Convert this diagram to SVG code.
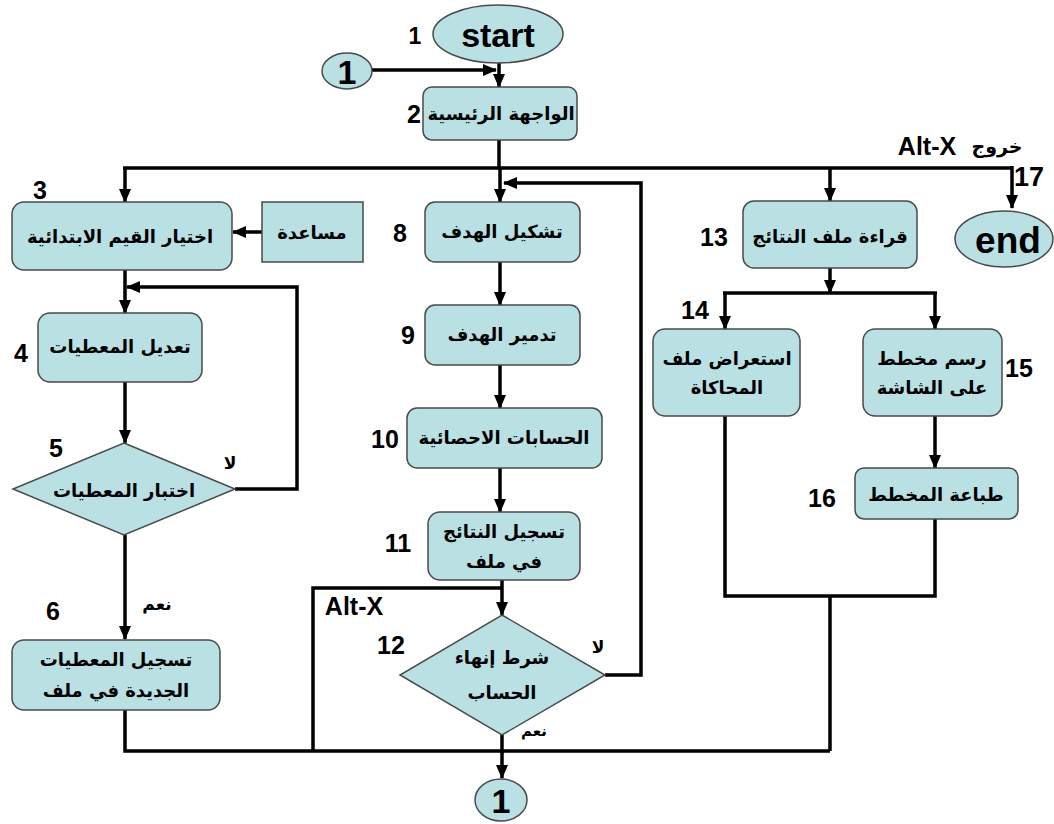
<svg xmlns="http://www.w3.org/2000/svg" width="1054" height="824" viewBox="0 0 1054 824">
<style>
.n{fill:#b9e0e3;stroke:#4a4a4a;stroke-width:1.5}
.c{fill:none;stroke:#000;stroke-width:3.5}
.ar{font-family:"DejaVu Sans",sans-serif;font-weight:bold;font-size:18px;fill:#000;text-anchor:middle;dominant-baseline:central}
.lbl{font-family:"DejaVu Sans",sans-serif;font-weight:bold;font-size:17px;fill:#000;text-anchor:middle;dominant-baseline:central}
.num{font-family:"Liberation Sans",Arial,sans-serif;font-weight:bold;font-size:25px;fill:#000;text-anchor:middle;dominant-baseline:central}
.big{font-family:"Liberation Sans",Arial,sans-serif;font-weight:bold;font-size:34px;fill:#000;text-anchor:middle;dominant-baseline:central}
</style>
<defs>
<marker id="ah" markerUnits="userSpaceOnUse" markerWidth="14" markerHeight="14" viewBox="0 0 14 14" refX="13" refY="7" orient="auto">
<path d="M0,1 L14,7 L0,13 Z" fill="#000"/>
</marker>
</defs>
<rect width="1054" height="824" fill="#fff"/>
<g id="connectors">
<path class="c" d="M372,70 H496" marker-end="url(#ah)"/>
<path class="c" d="M499,63 V87" marker-end="url(#ah)"/>
<path class="c" d="M499,140 V168"/>
<path class="c" d="M123,168 H1012"/>
<path class="c" d="M125,168 V202" marker-end="url(#ah)"/>
<path class="c" d="M500,168 V202" marker-end="url(#ah)"/>
<path class="c" d="M830,168 V201" marker-end="url(#ah)"/>
<path class="c" d="M1012,166 V208" marker-end="url(#ah)"/>
<path class="c" d="M262,232 H233" marker-end="url(#ah)"/>
<path class="c" d="M125,270 V313" marker-end="url(#ah)"/>
<path class="c" d="M235,489 H297 V287 H127" marker-end="url(#ah)"/>
<path class="c" d="M125,382 V443" marker-end="url(#ah)"/>
<path class="c" d="M125,535 V639" marker-end="url(#ah)"/>
<path class="c" d="M125,710 V751 H830"/>
<path class="c" d="M500,262 V305" marker-end="url(#ah)"/>
<path class="c" d="M500,365 V408" marker-end="url(#ah)"/>
<path class="c" d="M500,468 V512" marker-end="url(#ah)"/>
<path class="c" d="M502,580 V615" marker-end="url(#ah)"/>
<path class="c" d="M502,588 H313 V751"/>
<path class="c" d="M605,675 H641 V183 H504" marker-end="url(#ah)"/>
<path class="c" d="M502,733 V778" marker-end="url(#ah)"/>
<path class="c" d="M830,268 V293" marker-end="url(#ah)"/>
<path class="c" d="M723,293 H937"/>
<path class="c" d="M725,293 V329" marker-end="url(#ah)"/>
<path class="c" d="M935,293 V329" marker-end="url(#ah)"/>
<path class="c" d="M935,416 V468" marker-end="url(#ah)"/>
<path class="c" d="M725,416 V596 H935 V519"/>
<path class="c" d="M830,596 V751"/>
</g>
<g id="start">
<ellipse class="n" cx="498" cy="34" rx="65" ry="29"/>
<text class="big" x="498" y="35">start</text>
<text class="num" x="415" y="36" style="font-size:23px">1</text>
</g>
<g id="conn-top">
<ellipse class="n" cx="347" cy="71" rx="25" ry="18"/>
<text class="big" x="347" y="72">1</text>
</g>
<g id="n2">
<rect class="n" x="423" y="87" width="154" height="53" rx="9"/>
<text class="ar" x="501" y="113">الواجهة الرئيسية</text>
<text class="num" x="414" y="114">2</text>
</g>
<g id="exit-label">
<text class="num" x="927" y="146">Alt-X</text>
<text class="lbl" x="997" y="146" style="font-size:19px">خروج</text>
</g>
<g id="n3">
<rect class="n" x="12" y="202" width="220" height="68" rx="12"/>
<text class="ar" x="120" y="236">اختيار القيم الابتدائية</text>
<text class="num" x="40" y="190">3</text>
</g>
<g id="help">
<rect class="n" x="262" y="202" width="101" height="60"/>
<text class="ar" x="312" y="232">مساعدة</text>
</g>
<g id="n4">
<rect class="n" x="38" y="313" width="164" height="69" rx="12"/>
<text class="ar" x="120" y="346">تعديل المعطيات</text>
<text class="num" x="21" y="353">4</text>
</g>
<g id="n5">
<polygon class="n" points="124,443 235,489 124,535 13,489"/>
<text class="ar" x="124" y="490">اختبار المعطيات</text>
<text class="num" x="56" y="448">5</text>
<text class="lbl" x="230" y="463">لا</text>
</g>
<g id="n6">
<rect class="n" x="12" y="640" width="208" height="70" rx="12"/>
<text class="ar" x="116" y="659">تسجيل المعطيات</text>
<text class="ar" x="116" y="690">الجديدة في ملف</text>
<text class="num" x="53" y="611">6</text>
<text class="lbl" x="157" y="604">نعم</text>
</g>
<g id="n8">
<rect class="n" x="425" y="202" width="155" height="60" rx="10"/>
<text class="ar" x="502" y="231">تشكيل الهدف</text>
<text class="num" x="400" y="233">8</text>
</g>
<g id="n9">
<rect class="n" x="425" y="305" width="155" height="60" rx="10"/>
<text class="ar" x="502" y="334">تدمير الهدف</text>
<text class="num" x="408" y="335">9</text>
</g>
<g id="n10">
<rect class="n" x="407" y="408" width="195" height="60" rx="10"/>
<text class="ar" x="504" y="437">الحسابات الاحصائية</text>
<text class="num" x="385" y="439">10</text>
</g>
<g id="n11">
<rect class="n" x="428" y="512" width="152" height="68" rx="12"/>
<text class="ar" x="504" y="531">تسجيل النتائج</text>
<text class="ar" x="504" y="561">في ملف</text>
<text class="num" x="398" y="543">11</text>
</g>
<g id="altx-mid">
<text class="num" x="354" y="606">Alt-X</text>
</g>
<g id="n12">
<polygon class="n" points="502,615 605,675 502,735 400,675"/>
<text class="ar" x="502" y="657">شرط إنهاء</text>
<text class="ar" x="502" y="692">الحساب</text>
<text class="num" x="391" y="645">12</text>
<text class="lbl" x="598" y="647">لا</text>
<text class="lbl" x="534" y="731" style="font-size:15px">نعم</text>
</g>
<g id="conn-bottom">
<ellipse class="n" cx="501" cy="800" rx="26" ry="21"/>
<text class="big" x="501" y="801">1</text>
</g>
<g id="n13">
<rect class="n" x="743" y="201" width="174" height="67" rx="11"/>
<text class="ar" x="830" y="236">قراءة ملف النتائج</text>
<text class="num" x="714" y="237">13</text>
</g>
<g id="end">
<ellipse class="n" cx="1004" cy="239" rx="49" ry="28"/>
<text class="big" x="1008" y="240" style="font-size:37px">end</text>
<text class="num" x="1029" y="177" style="font-size:27px">17</text>
</g>
<g id="n14">
<rect class="n" x="653" y="329" width="147" height="87" rx="12"/>
<text class="ar" x="727" y="358">استعراض ملف</text>
<text class="ar" x="727" y="387">المحاكاة</text>
<text class="num" x="695" y="310">14</text>
</g>
<g id="n15">
<rect class="n" x="863" y="329" width="139" height="87" rx="12"/>
<text class="ar" x="932" y="358">رسم مخطط</text>
<text class="ar" x="932" y="387">على الشاشة</text>
<text class="num" x="1019" y="368">15</text>
</g>
<g id="n16">
<rect class="n" x="855" y="468" width="163" height="51" rx="9"/>
<text class="ar" x="936" y="494">طباعة المخطط</text>
<text class="num" x="822" y="498">16</text>
</g>
</svg>
